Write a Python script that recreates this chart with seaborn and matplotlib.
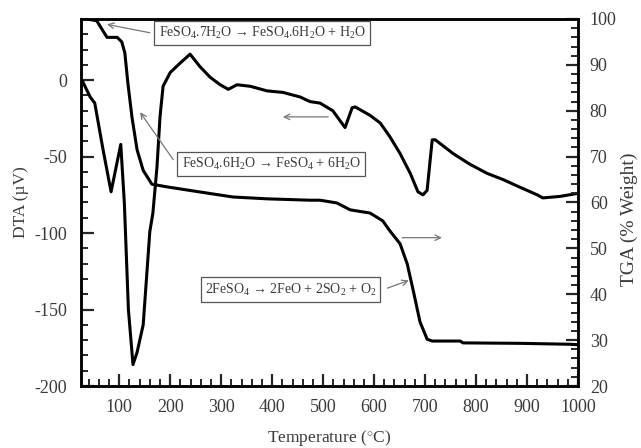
import matplotlib
matplotlib.use("Agg")
import matplotlib.pyplot as plt
import seaborn as sns
import pandas as pd
from matplotlib.ticker import MultipleLocator

# ---- data ----
dta_temp = [27, 43, 52, 68, 84, 95, 103, 110, 118, 127, 135, 147, 160, 166, 174, 180, 186, 200,
            219, 239, 258, 278, 298, 314, 331, 357, 390, 421, 455, 474, 494, 519, 543, 557, 563,
            592, 612, 631, 651, 671, 686, 696, 704, 714, 720, 755, 788, 822, 853, 886, 920, 931,
            965, 1000]
dta_val = [0, -11, -15, -45, -73, -55, -42, -80, -150, -186, -178, -160, -99, -87, -57, -24, -4, 5,
           11, 17, 9, 2, -3, -6, -3, -4, -7, -8, -11, -14, -15, -20, -31, -18, -17.5,
           -23, -28, -37, -48, -61, -73, -75, -72, -39, -39, -48, -55, -61, -65, -70, -75, -77,
           -76, -74]

tga_temp = [25, 37, 56, 76, 96, 105, 111, 117, 125, 135, 147, 164, 194, 258, 323, 390, 474, 494,
            527, 553, 592, 617, 631, 651, 665, 677, 690, 704, 714, 769, 774, 886, 984, 1000]
tga_val = [100, 100, 99.6, 96, 96, 95, 92.6, 86, 78.6, 71.5, 67, 64, 63.4, 62.3, 61.2, 60.8, 60.5,
           60.5, 59.9, 58.4, 57.7, 56, 53.8, 51, 46.6, 40.7, 34, 30.2, 29.8, 29.8, 29.4, 29.3,
           29.1, 29.0]

labels = ["FeSO$_4$.7H$_2$O \u2192 FeSO$_4$.6H$_2$O + H$_2$O",
          "FeSO$_4$.6H$_2$O \u2192 FeSO$_4$ + 6H$_2$O",
          "2FeSO$_4$ \u2192 2FeO + 2SO$_2$ + O$_2$"]

sns.set_style("white")
plt.rcParams["font.family"] = ["Liberation Serif", "DejaVu Serif"]
plt.rcParams["mathtext.fontset"] = "custom"
plt.rcParams["mathtext.rm"] = "Liberation Serif"
plt.rcParams["mathtext.it"] = "Liberation Serif:italic"
plt.rcParams["axes.unicode_minus"] = False

txt = "#3a3a3a"
fig = plt.figure(figsize=(6.41, 4.48), dpi=100)
ax = fig.add_axes([81 / 641, 1 - 386 / 448, 497 / 641, 367 / 448])
ax2 = ax.twinx()

dta = pd.DataFrame({"T": dta_temp, "DTA": dta_val})
tga = pd.DataFrame({"T": tga_temp, "TGA": tga_val})
sns.lineplot(data=dta, x="T", y="DTA", ax=ax, color="black", lw=2.2, sort=False)
sns.lineplot(data=tga, x="T", y="TGA", ax=ax2, color="black", lw=2.2, sort=False)

ax.set_xlim(25, 1000)
ax.set_ylim(-200, 40)
ax2.set_ylim(20, 100)

ax.xaxis.set_minor_locator(MultipleLocator(20))
ax.yaxis.set_major_locator(MultipleLocator(50))
ax.yaxis.set_minor_locator(MultipleLocator(10))
ax2.yaxis.set_major_locator(MultipleLocator(10))
ax2.yaxis.set_minor_locator(MultipleLocator(2))
ax.set_xticks([100, 200, 300, 400, 500, 600, 700, 800, 900, 1000])

for a in (ax, ax2):
    for s in a.spines.values():
        s.set_linewidth(1.8)
        s.set_color("black")
ax.tick_params(axis="both", which="major", direction="in", length=9, width=1.6,
               labelsize=13, labelcolor=txt, pad=10)
ax.tick_params(axis="both", which="minor", direction="in", length=5, width=1.4)
ax.tick_params(axis="x", which="both", top=False, bottom=True, pad=9)
ax.tick_params(axis="y", which="both", left=True, right=False)
ax2.tick_params(axis="y", which="major", direction="in", length=9, width=1.6,
                labelsize=13, labelcolor=txt, pad=8.5, right=True, left=False)
ax2.tick_params(axis="y", which="minor", direction="in", length=5, width=1.4, right=True)

ax.set_xlabel("Temperature ($^{\\circ}$C)", fontsize=12.5, color=txt, labelpad=9)
ax.set_ylabel("DTA (\u00b5V)", fontsize=12.5, color=txt, labelpad=4)
ax2.set_ylabel("TGA (% Weight)", fontsize=14, color=txt, labelpad=3)
ax2.yaxis.label.set_y(0.455)
ax.grid(False)
ax2.grid(False)

box = dict(boxstyle="square,pad=0.3", fc="white", ec="#555555", lw=0.9)
ap = dict(arrowstyle="->", color="#777777", lw=0.9, shrinkA=0, shrinkB=0)

ax.text(380, 31, labels[0], fontsize=10, color=txt, ha="center", va="center", bbox=box, zorder=5)
ax.text(398, -55, labels[1], fontsize=10, color=txt, ha="center", va="center", bbox=box, zorder=5)
ax.text(436, -137, labels[2], fontsize=10, color=txt, ha="center", va="center", bbox=box, zorder=5)

ax.annotate("", xy=(76, 36.5), xytext=(160, 31), arrowprops=ap)
ax.annotate("", xy=(141, -21), xytext=(206, -52), arrowprops=ap)
ax.annotate("", xy=(668, -131), xytext=(626, -136), arrowprops=ap)
ax.annotate("", xy=(421, -24), xytext=(510, -24), arrowprops=ap)
ax.annotate("", xy=(733, -103), xytext=(655, -103), arrowprops=ap)

fig.savefig("out.png", dpi=100)
